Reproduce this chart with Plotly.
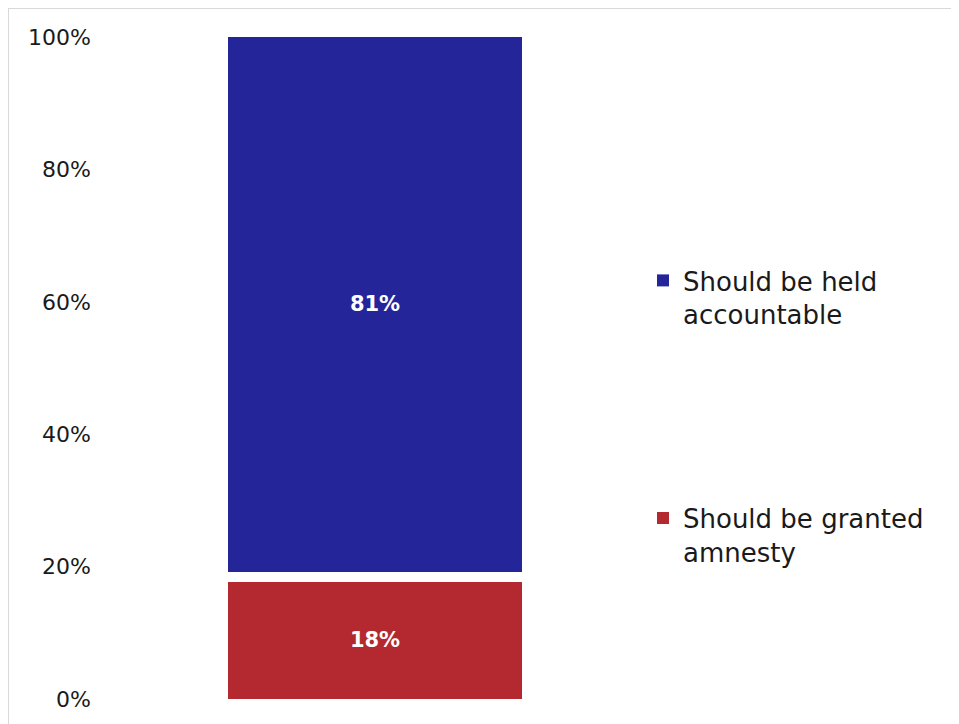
import plotly.graph_objects as go

categories = ["All respondents"]
series_names = ["Should be granted<br>amnesty", "Other", "Should be held<br>accountable"]
amnesty = [17.7]
other = [1.5]
accountable = [80.8]
tick_vals = [0, 20, 40, 60, 80, 100]
tick_text = ["0%", "20%", "40%", "60%", "80%", "100%"]

# page is rendered with an 8px body margin, so the figure is sized to the visible area
W, H = 951, 716
L, R, T, B = 92, 309, 29, 25
pw, ph = W - L - R, H - T - B

FONT = "DejaVu Sans"

fig = go.Figure()
fig.add_trace(go.Bar(
    x=categories, y=amnesty, name=series_names[0],
    marker=dict(color="#B3292F", line=dict(width=0)),
    texttemplate="<b>%{y:.0f}%</b>", textposition="inside", insidetextanchor="middle",
    textfont=dict(color="white", size=21, family=FONT),
    legendgroup="a", legendrank=2,
))
fig.add_trace(go.Bar(
    x=categories, y=other, name=series_names[1],
    marker=dict(color="rgba(0,0,0,0)", line=dict(width=0)),
    showlegend=False, hoverinfo="skip", textposition="none",
))
fig.add_trace(go.Bar(
    x=categories, y=accountable, name=series_names[2],
    marker=dict(color="#25259A", line=dict(width=0)),
    texttemplate="<b>%{y:.0f}%</b>", textposition="inside", insidetextanchor="middle",
    textfont=dict(color="white", size=21, family=FONT),
    legendgroup="b", legendrank=1,
))

def px_x(p):
    return (p - L) / pw

def px_y(p):
    return 1 - (p - T) / ph

fig.update_layout(
    width=W, height=H,
    barmode="stack", bargap=0.465,
    margin=dict(l=L, r=R, t=T, b=B),
    plot_bgcolor="white", paper_bgcolor="white",
    font=dict(family=FONT, size=22, color="#1a1a1a"),
    xaxis=dict(visible=False, range=[-0.5, 0.5]),
    yaxis=dict(range=[0, 100], tickvals=tick_vals, ticktext=tick_text,
               showgrid=False, zeroline=False, showline=False,
               tickfont=dict(size=22, family=FONT, color="#1a1a1a"),
               ticklabelstandoff=8),
    legend=dict(
        x=px_x(635), xanchor="left", y=px_y(249), yanchor="top",
        traceorder="grouped", tracegroupgap=167, valign="top",
        font=dict(size=26, family=FONT, color="#1a1a1a"),
        bgcolor="rgba(0,0,0,0)",
    ),
    showlegend=True,
    shapes=[dict(type="rect", xref="paper", yref="paper",
                 x0=px_x(0), x1=px_x(W + 20), y0=px_y(H + 20), y1=px_y(0),
                 line=dict(color="#D9D9D9", width=2), fillcolor="rgba(0,0,0,0)",
                 layer="below")],
)

fig.write_html("out.html")
